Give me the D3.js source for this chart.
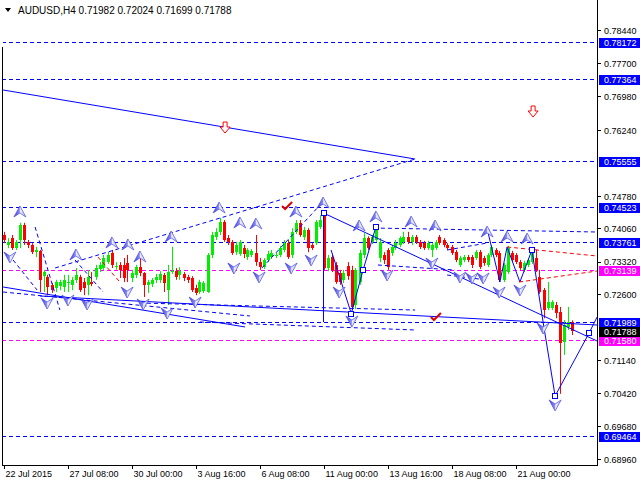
<!DOCTYPE html>
<html><head><meta charset="utf-8">
<script src="https://cdn.jsdelivr.net/npm/d3@7"></script>
<style>
body{margin:0;background:#fff;}
svg{display:block;}
text{font-family:"Liberation Sans",Arial,sans-serif;}
</style>
</head><body>
<svg id="c" width="640" height="480"></svg>
<script>
const symbolTitle = "AUDUSD,H4  0.71982 0.72024 0.71699 0.71788";
const opens  = [.7391,.7369,.7384,.7362,.7380,.7413,.7376,.7369,.7353,.7356,.7300,.7298,.7281,.7274,.7278,.7276,.7285,.7281,.7292,.7298,
 .7287,.7281,.7287,.7298,.7316,.7318,.7331,.7351,.7320,.7325,.7325,.7329,.7296,.7303,.7320,.7307,.7281,.7283,.7292,.7292,
 .7303,.7269,.7309,.7311,.7303,.7305,.7298,.7296,.7274,.7265,.7267,.7265,.7347,.7387,.7398,.7420,.7384,.7376,.7353,.7349,
 .7362,.7342,.7347,.7351,.7331,.7320,.7336,.7342,.7345,.7347,.7358,.7373,.7347,.7398,.7418,.7387,.7402,.7369,.7373,.7409,
 .7440,.7318,.7342,.7325,.7307,.7292,.7323,.7314,.7236,.7287,.7347,.7384,.7376,.7380,.7340,.7347,.7358,.7351,.7362,.7369,
 .7376,.7387,.7376,.7387,.7376,.7373,.7362,.7358,.7362,.7387,.7380,.7369,.7364,.7353,.7325,.7336,.7342,.7342,.7340,.7353,
 .7340,.7325,.7347,.7358,.7351,.7292,.7309,.7351,.7347,.7331,.7314,.7325,.7331,.7340,.7298,.7269,.7229,.7229,.7236,.7221,
 .7155,.7188,.71982];
const highs  = [.7398,.7384,.7391,.7380,.7418,.7418,.7380,.7373,.7365,.7358,.7314,.7303,.7285,.7292,.7292,.7303,.7303,.7298,.7318,.7303,
 .7296,.7314,.7309,.7325,.7331,.7347,.7353,.7358,.7331,.7331,.7340,.7347,.7314,.7325,.7342,.7309,.7292,.7296,.7305,.7311,
 .7307,.7325,.7365,.7318,.7320,.7309,.7303,.7300,.7281,.7292,.7289,.7351,.7398,.7406,.7429,.7424,.7391,.7380,.7376,.7380,
 .7369,.7362,.7360,.7391,.7340,.7340,.7356,.7358,.7353,.7367,.7380,.7380,.7406,.7424,.7424,.7409,.7406,.7373,.7424,.7435,
 .7444,.7347,.7347,.7331,.7314,.7314,.7331,.7323,.7318,.7358,.7395,.7388,.7391,.7411,.7384,.7353,.7362,.7369,.7380,.7388,
 .7398,.7398,.7391,.7391,.7380,.7378,.7378,.7373,.7380,.7391,.7384,.7373,.7369,.7358,.7345,.7347,.7347,.7347,.7358,.7358,
 .7345,.7351,.7369,.7362,.7356,.7329,.7367,.7356,.7351,.7336,.7334,.7340,.7362,.7358,.7314,.7274,.7287,.7247,.7243,.7232,
 .7203,.7232,.72024];
const lows   = [.7373,.7362,.7358,.7358,.7362,.7369,.7362,.7349,.7342,.7265,.7265,.7258,.7263,.7265,.7269,.7265,.7265,.7269,.7285,.7265,
 .7258,.7258,.7278,.7292,.7309,.7314,.7327,.7318,.7314,.7296,.7287,.7287,.7287,.7296,.7300,.7254,.7263,.7276,.7285,.7285,
 .7265,.7236,.7305,.7292,.7292,.7289,.7285,.7265,.7258,.7261,.7263,.7263,.7340,.7380,.7391,.7376,.7369,.7347,.7347,.7345,
 .7340,.7336,.7342,.7323,.7314,.7316,.7331,.7338,.7340,.7342,.7353,.7338,.7340,.7393,.7387,.7380,.7353,.7358,.7369,.7404,
 .7314,.7311,.7309,.7283,.7281,.7285,.7292,.7225,.7227,.7281,.7340,.7358,.7371,.7376,.7331,.7327,.7314,.7345,.7358,.7364,
 .7371,.7371,.7369,.7371,.7360,.7358,.7358,.7342,.7358,.7369,.7364,.7358,.7347,.7331,.7320,.7331,.7331,.7318,.7336,.7316,
 .7323,.7320,.7342,.7342,.7287,.7287,.7305,.7331,.7327,.7314,.7309,.7320,.7327,.7309,.7261,.7207,.7225,.7225,.7207,.7040,
 .7126,.7181,.71699];
const closes = [.7380,.7376,.7362,.7376,.7413,.7380,.7369,.7353,.7358,.7292,.7309,.7276,.7269,.7287,.7287,.7292,.7287,.7292,.7303,.7269,
 .7274,.7298,.7283,.7318,.7325,.7340,.7347,.7325,.7323,.7314,.7296,.7314,.7307,.7320,.7307,.7281,.7287,.7292,.7298,.7305,
 .7285,.7309,.7311,.7298,.7311,.7296,.7292,.7269,.7263,.7287,.7285,.7347,.7391,.7398,.7420,.7380,.7376,.7351,.7369,.7376,
 .7349,.7358,.7356,.7331,.7320,.7336,.7349,.7351,.7347,.7362,.7373,.7342,.7398,.7418,.7391,.7402,.7362,.7362,.7420,.7424,
 .7318,.7340,.7314,.7287,.7287,.7307,.7300,.7232,.7314,.7351,.7384,.7362,.7387,.7406,.7376,.7336,.7320,.7364,.7373,.7384,
 .7387,.7376,.7387,.7376,.7364,.7362,.7373,.7369,.7376,.7373,.7369,.7362,.7351,.7336,.7340,.7342,.7336,.7325,.7353,.7320,
 .7329,.7347,.7364,.7347,.7292,.7325,.7362,.7336,.7331,.7318,.7329,.7336,.7358,.7314,.7265,.7225,.7243,.7243,.7218,.7153,
 .7192,.7199,.71788];

const timeLabels = ["22 Jul 2015","27 Jul 08:00","30 Jul 00:00","3 Aug 16:00","6 Aug 08:00","11 Aug 00:00","13 Aug 16:00","18 Aug 08:00","21 Aug 00:00"];
const timeLabelBars = [0,16,32,48,64,80,96,112,128];
const priceTicks = [0.78440,0.77700,0.76980,0.76240,0.74780,0.74060,0.73320,0.72600,0.71140,0.70420,0.69680,0.68960];
const blueLevels = [0.78172,0.77364,0.75555,0.74523,0.73761,0.71989,0.69464];
const magentaLevels = [0.73139,0.71580];
const lastPrice = 0.71788;

// analysis objects in [bar index, price]
const solidLines = [
 [[-0.1,0.77114],[102.9,0.75589]],
 [[-0.1,0.72761],[60.4,0.71877]],
 [[9.1,0.72562],[148.4,0.71921]],
 [[80,0.74396],[80,0.71987]],
 [[80,0.74396],[148.4,0.71567]],
 [[81.9,0.73578],[86.9,0.72186]],
 [[86.9,0.72164],[89.9,0.73136],[93.1,0.74087]],
 [[121.1,0.73976],[124.1,0.72871],[125.9,0.73645],[129.1,0.72871],[132.1,0.73578],[134.9,0.71987],[137.9,0.70352],[146.4,0.71744],[148.4,0.72098]]
];
const dashedLines = [
 [[12.9,0.73181],[102.9,0.75589]],
 [[64.6,0.73181],[79.6,0.74617]],
 [[7.9,0.74087],[14.1,0.72252]],
 [[2.4,0.73357],[8.4,0.72694]],
 [[17.9,0.73357],[24.9,0.72650]],
 [[-0.1,0.72650],[61.6,0.72120]],
 [[34.1,0.72407],[102.9,0.72252]],
 [[49.1,0.71987],[102.9,0.71811]],
 [[92.6,0.74064],[148.4,0.73976]],
 [[93.6,0.73247],[112.9,0.73136]],
 [[110.9,0.73578],[120.9,0.73733]],
 [[110.9,0.73026],[120.9,0.72915]]
];
const redDashedLines = [
 [[125.9,0.73645],[148.4,0.73446]],
 [[128.9,0.72871],[148.4,0.73114]],
 [[23.6,0.73424],[29.1,0.72871]]
];
const squares = [[80,0.74396],[86.9,0.72164],[89.9,0.73136],[93.1,0.74087],[132.1,0.73578],[137.9,0.70352],[146.4,0.71744]];
const fractalUp = [[4.1,0.74418],[18.1,0.73468],[27.1,0.73733],[31.1,0.73689],[34.1,0.73424],[41.9,0.73866],[53.9,0.74506],
 [59.1,0.74175],[63.1,0.74153],[73.1,0.74418],[79.9,0.74617],[88.9,0.74109],[93.1,0.74308],[101.9,0.74197],[107.9,0.74109],
 [120.9,0.73976],[125.9,0.73866],[130.9,0.73821]];
const fractalDown = [[1.6,0.73424],[10.9,0.72407],[16.1,0.72473],[20.9,0.72385],[30.9,0.72650],[34.9,0.72385],[40.9,0.72186],
 [47.9,0.72429],[57.6,0.73181],[63.9,0.72982],[71.9,0.73181],[76.9,0.73357],[83.9,0.72650],[87.1,0.72009],[95.9,0.73026],
 [107.1,0.73291],[114.1,0.72982],[117.1,0.72960],[119.9,0.72960],[123.9,0.72650],[129.1,0.72694],[134.9,0.71855],[137.9,0.70154]];
const redArrows = [[55.4,0.76274],[132.4,0.76628]];
const redChecks = [[70.9,0.74551],[108.1,0.72097]];

const svg = d3.select("#c");
const plotL = 2, plotR = 597, plotT = 0, plotB = 465;
const x = d3.scaleLinear().domain([0,142]).range([3.5,571.5]);
const y = d3.scaleLinear().domain([0.7844,0.6896]).range([30,459]);

const defs = svg.append("defs");
defs.append("clipPath").attr("id","plot").append("rect")
  .attr("x",plotL+1).attr("y",plotT).attr("width",plotR-plotL-1).attr("height",plotB-plotT);
const g1 = defs.append("linearGradient").attr("id","fg").attr("x1",0).attr("x2",1).attr("y1",0).attr("y2",0);
g1.append("stop").attr("offset","0").attr("stop-color","#3a3ae0");
g1.append("stop").attr("offset","0.45").attr("stop-color","#8a8cf4");
g1.append("stop").attr("offset","0.55").attr("stop-color","#eceeff");
g1.append("stop").attr("offset","1").attr("stop-color","#b8bcf8");

const plot = svg.append("g").attr("clip-path","url(#plot)");
const px = v => Math.round(v);

// title
svg.append("path").attr("d","M5,8 L11,8 L8,12 Z").attr("fill","#000");
svg.append("text").attr("x",18).attr("y",14).attr("font-size",10).attr("fill","#000").text(symbolTitle);

// level lines
blueLevels.forEach(v=>{
  plot.append("line").attr("x1",plotL).attr("x2",plotR).attr("y1",px(y(v))+0.5).attr("y2",px(y(v))+0.5)
   .attr("stroke","#0000ff").attr("stroke-dasharray","4,3");
});
magentaLevels.forEach(v=>{
  plot.append("line").attr("x1",plotL).attr("x2",plotR).attr("y1",px(y(v))+0.5).attr("y2",px(y(v))+0.5)
   .attr("stroke","#ff00ff").attr("stroke-dasharray","4,3");
});

// candles
const bars = d3.range(opens.length).map(i=>({i,o:opens[i],h:highs[i],l:lows[i],c:closes[i]}));
const cg = plot.append("g");
bars.forEach(b=>{
  const cx = px(x(b.i));
  const col = b.c >= b.o ? "#00ee00" : "#ff0000";
  cg.append("line").attr("x1",cx+0.5).attr("x2",cx+0.5).attr("y1",y(b.h)).attr("y2",y(b.l)).attr("stroke",col);
  const top = px(y(Math.max(b.o,b.c))), bot = px(y(Math.min(b.o,b.c)));
  cg.append("rect").attr("x",cx-1).attr("y",top).attr("width",3).attr("height",Math.max(1,bot-top)).attr("fill",col);
});

// analysis lines
const line = d3.line().x(d=>x(d[0])).y(d=>y(d[1]));
solidLines.forEach(p=>plot.append("path").attr("d",line(p)).attr("fill","none").attr("stroke","#0000ff").attr("stroke-width",1));
dashedLines.forEach(p=>plot.append("path").attr("d",line(p)).attr("fill","none").attr("stroke","#0000ff").attr("stroke-dasharray","4,3"));
redDashedLines.forEach(p=>plot.append("path").attr("d",line(p)).attr("fill","none").attr("stroke","#ff0000").attr("stroke-dasharray","4,3"));

squares.forEach(d=>plot.append("rect").attr("x",px(x(d[0]))-2.5).attr("y",px(y(d[1]))-2.5).attr("width",5).attr("height",5)
  .attr("fill","#fff").attr("stroke","#0000ff"));

fractalUp.forEach(d=>plot.append("path").attr("transform",`translate(${x(d[0])},${y(d[1])})`)
  .attr("d","M0,-6 L6,5 L0,1 L-6,5 Z").attr("fill","url(#fg)").attr("stroke","#4a4ae0").attr("stroke-width",0.7));
fractalDown.forEach(d=>plot.append("path").attr("transform",`translate(${x(d[0])},${y(d[1])})`)
  .attr("d","M0,6 L6,-5 L0,-1 L-6,-5 Z").attr("fill","url(#fg)").attr("stroke","#4a4ae0").attr("stroke-width",0.7));

redArrows.forEach(d=>plot.append("path").attr("transform",`translate(${x(d[0])},${y(d[1])})`)
  .attr("d","M-2,-6 H2 V-1 H5 L0,5 L-5,-1 H-2 Z").attr("fill","#fff").attr("stroke","#ff0000").attr("stroke-width",1));
redChecks.forEach(d=>plot.append("path").attr("transform",`translate(${x(d[0])},${y(d[1])})`)
  .attr("d","M-5,0 L-2,3 L5,-4").attr("fill","none").attr("stroke","#e00000").attr("stroke-width",2));

// frame
svg.append("line").attr("x1",plotR+0.5).attr("x2",plotR+0.5).attr("y1",0).attr("y2",plotB+1).attr("stroke","#000");
svg.append("line").attr("x1",plotL).attr("x2",plotR+1).attr("y1",plotB+0.5).attr("y2",plotB+0.5).attr("stroke","#000");
svg.append("line").attr("x1",plotL+0.5).attr("x2",plotL+0.5).attr("y1",47).attr("y2",plotB+1).attr("stroke","#000");

// price axis
priceTicks.forEach(v=>{
  const yy = px(y(v))+0.5;
  svg.append("line").attr("x1",plotR+1).attr("x2",plotR+4).attr("y1",yy).attr("y2",yy).attr("stroke","#000");
  svg.append("text").attr("x",604).attr("y",yy - (v===0.73320 ? 1 : 0)).attr("dy","0.35em").attr("font-size",9).attr("fill","#000").text(v.toFixed(5));
});
function levelLabel(v,bg){
  const yy = px(y(v));
  svg.append("rect").attr("x",599).attr("y",yy-4).attr("width",41).attr("height",10).attr("fill",bg);
  svg.append("text").attr("x",604).attr("y",yy+1).attr("dy","0.35em").attr("font-size",9).attr("fill","#fff").text(v.toFixed(5));
}
blueLevels.forEach(v=>levelLabel(v,"#0000ff"));
magentaLevels.forEach(v=>levelLabel(v,"#ff00ff"));
levelLabel(lastPrice,"#000000");

// time axis
timeLabelBars.forEach((b,k)=>{
  const xx = px(x(b))+0.5;
  svg.append("line").attr("x1",xx).attr("x2",xx).attr("y1",plotB).attr("y2",plotB+4).attr("stroke","#000");
  svg.append("text").attr("x",xx+1).attr("y",477).attr("font-size",9).attr("fill","#000").text(timeLabels[k]);
});
</script>
</body></html>
